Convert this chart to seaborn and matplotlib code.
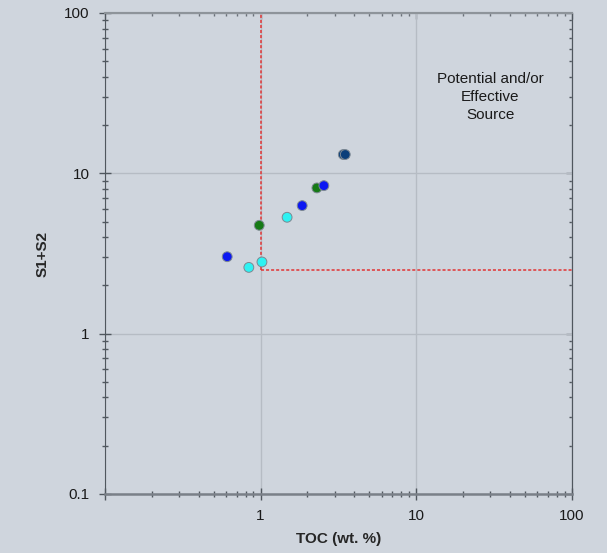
import matplotlib
matplotlib.use("Agg")
import matplotlib.pyplot as plt
import matplotlib.ticker as mticker
import pandas as pd
import seaborn as sns

# sample values
toc = [0.61, 0.84, 1.02, 0.98, 1.48, 1.85, 2.30, 2.55, 3.40, 3.50]
s1_s2 = [3.02, 2.59, 2.80, 4.74, 5.32, 6.29, 8.11, 8.38, 13.1, 13.1]
group = ["blue", "cyan", "cyan", "green", "cyan", "blue", "green", "blue", "navy", "navy"]

palette = {"blue": "#0c18f2", "cyan": "#2ef2f2", "green": "#167a16", "navy": "#0b3f7a"}

# cut-off lines
toc_cut = 1.0
s1s2_cut = 2.5

x_ticks = [0.1, 1, 10, 100]
x_tick_labels = ["", "1", "10", "100"]
y_ticks = [0.1, 1, 10, 100]
y_tick_labels = ["0.1", "1", "10", "100"]

zone_text = "Potential and/or\nEffective\nSource"

bg = "#cfd5dd"

sns.set_style("ticks")
plt.rcParams["font.family"] = ["Liberation Sans", "DejaVu Sans"]

df = pd.DataFrame({"toc": toc, "s1s2": s1_s2, "group": group})

fig = plt.figure(figsize=(6.07, 5.53), dpi=100, facecolor=bg)
ax = fig.add_axes([0.173, 0.1067, 0.769, 0.8698])
ax.set_facecolor(bg)
ax.set_xscale("log")
ax.set_yscale("log")
ax.set_xlim(0.1, 100)
ax.set_ylim(0.1, 100)

ax.grid(True, which="major", color="#b6bcc4", linewidth=1.0)
ax.set_axisbelow(True)

ax.plot([toc_cut, toc_cut], [s1s2_cut, 100], color="#e23434", linewidth=1.1,
        linestyle=(0, (2, 1.3)), zorder=2)
ax.plot([toc_cut, 100], [s1s2_cut, s1s2_cut], color="#e23434", linewidth=1.1,
        linestyle=(0, (2, 1.3)), zorder=2)

sns.scatterplot(data=df, x="toc", y="s1s2", hue="group", palette=palette, s=50,
                edgecolor="#7d8892", linewidth=0.7, legend=False, ax=ax, zorder=3)

ax.text(30, 30, zone_text, ha="center", va="center", multialignment="center",
        fontsize=11, color="#1a1a1a", linespacing=1.36)

ax.set_xticks(x_ticks)
ax.set_xticklabels(x_tick_labels)
ax.set_yticks(y_ticks)
ax.set_yticklabels(y_tick_labels)
ax.tick_params(which="major", direction="inout", length=8, width=1, color="#50575e",
               labelsize=11, labelcolor="#1a1a1a", pad=7)
ax.tick_params(which="minor", direction="inout", length=5, width=1, color="#50575e")

ax.set_xlabel("TOC (wt. %)", fontsize=11, fontweight="bold")
ax.set_ylabel("S1+S2", fontsize=11, fontweight="bold")
ax.xaxis.set_label_coords(0.5, -0.078)
ax.yaxis.set_label_coords(-0.118, 0.5)

ax.spines["left"].set_color("#50575e")
ax.spines["right"].set_color("#50575e")
ax.spines["bottom"].set_color("#7a8088")
ax.spines["bottom"].set_linewidth(1.8)
ax.spines["top"].set_color("#8e949a")
ax.spines["top"].set_linewidth(1.5)

# small inward ticks on top and right
top = ax.secondary_xaxis("top")
top.tick_params(which="major", direction="in", length=4, width=1, color="#6a7078")
top.tick_params(which="minor", direction="in", length=2.5, width=1, color="#6a7078")
top.xaxis.set_major_formatter(mticker.NullFormatter())
top.xaxis.set_minor_formatter(mticker.NullFormatter())
top.spines["top"].set_color("#8e949a")
top.spines["top"].set_linewidth(1.5)

right = ax.secondary_yaxis("right")
right.tick_params(which="major", direction="in", length=4, width=1, color="#50575e")
right.tick_params(which="minor", direction="in", length=2.5, width=1, color="#50575e")
right.yaxis.set_major_formatter(mticker.NullFormatter())
right.yaxis.set_minor_formatter(mticker.NullFormatter())
right.spines["right"].set_color("#50575e")

fig.savefig("out.png", dpi=100, facecolor=bg)
